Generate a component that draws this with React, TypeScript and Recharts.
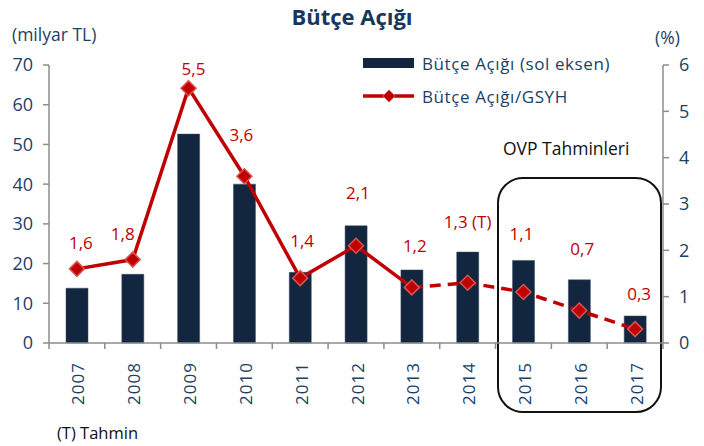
import React from "react";
import {
  ComposedChart,
  Bar,
  Line,
  XAxis,
  YAxis,
  LabelList,
} from "recharts";

const years = ["2007", "2008", "2009", "2010", "2011", "2012", "2013", "2014", "2015", "2016", "2017"];
const deficit = [13.8, 17.3, 52.6, 40.0, 17.8, 29.5, 18.4, 22.9, 20.8, 15.9, 6.8];
const deficitToGdp = [1.6, 1.8, 5.5, 3.6, 1.4, 2.1, 1.2, 1.3, 1.1, 0.7, 0.3];
const ratioLabels = ["1,6", "1,8", "5,5", "3,6", "1,4", "2,1", "1,2", "1,3 (T)", "1,1", "0,7", "0,3"];
const leftTicks = [0, 10, 20, 30, 40, 50, 60, 70];
const rightTicks = [0, 1, 2, 3, 4, 5, 6];
const lastActualIndex = 6; // 2013: solid line ends, dashed starts

// label nudges (px) as placed in the original
const LABEL_DX = [4, -10, 5, -3, 2, 2, 3, 0, -2, 3, 4];
const LABEL_DY = [26, 26, 20, 42, 38, 53, 42, 61, 59, 62, 36];

const W = 704;
const H = 446;
const PLOT_LEFT = 49;
const PLOT_RIGHT = 663;
const PLOT_TOP = 65;
const PLOT_BOTTOM = 343;
const BAND = (PLOT_RIGHT - PLOT_LEFT) / years.length;

const NAVY = "#13263F";
const RED = "#C00000";
const TEXT_BLUE = "#1B3F66";
const AXIS = "#8C8C8C";
const FONT = "'Open Sans', 'DejaVu Sans', sans-serif";

const data = years.map((y, i) => ({
  year: y,
  deficit: deficit[i],
  ratio: deficitToGdp[i],
  solid: i <= lastActualIndex ? deficitToGdp[i] : null,
  dashed: i >= lastActualIndex ? deficitToGdp[i] : null,
  label: ratioLabels[i],
}));

const Diamond = (props: any) => {
  const { cx, cy } = props;
  if (cx == null || cy == null) return null;
  const r = 7.5;
  return (
    <polygon
      points={`${cx},${cy - r} ${cx + r},${cy} ${cx},${cy + r} ${cx - r},${cy}`}
      fill={RED}
      stroke="#D9534F"
      strokeWidth={1.5}
    />
  );
};

const RatioLabel = (props: any) => {
  const { x, y, index, value } = props;
  return (
    <text
      x={x + LABEL_DX[index]}
      y={y - LABEL_DY[index]}
      textAnchor="middle"
      dominantBaseline="central"
      fill={RED}
      fontSize={17}
      fontFamily={FONT}
    >
      {value}
    </text>
  );
};

const YearTick = (props: any) => {
  const { x, y, payload, index } = props;
  return (
    <g>
      <line x1={x - BAND / 2} y1={y - 8} x2={x - BAND / 2} y2={y - 2} stroke={AXIS} strokeWidth={1.5} />
      {index === years.length - 1 && (
        <line x1={x + BAND / 2} y1={y - 8} x2={x + BAND / 2} y2={y - 2} stroke={AXIS} strokeWidth={1.5} />
      )}
      <text
        transform={`translate(${x + 1}, ${y + 11}) rotate(-90)`}
        textAnchor="end"
        dominantBaseline="central"
        fill={TEXT_BLUE}
        fontSize={17}
        fontFamily={FONT}
        letterSpacing={1}
      >
        {payload.value}
      </text>
    </g>
  );
};

const LegendBox = () => (
  <div
    style={{
      position: "absolute",
      left: 363,
      top: 52,
      fontFamily: FONT,
      fontSize: 17,
      letterSpacing: 0.6,
      color: TEXT_BLUE,
    }}
  >
    <div style={{ display: "flex", alignItems: "center", height: 22 }}>
      <svg width={52} height={12}>
        <rect x={0} y={1} width={51} height={10} fill={NAVY} />
      </svg>
      <span style={{ marginLeft: 7 }}>Bütçe Açığı (sol eksen)</span>
    </div>
    <div style={{ display: "flex", alignItems: "center", height: 22, marginTop: 11 }}>
      <svg width={52} height={16}>
        <line x1={0} y1={8} x2={51} y2={8} stroke={RED} strokeWidth={3.5} />
        <polygon points="26,2 32,8 26,14 20,8" fill={RED} stroke="#D9534F" strokeWidth={1} />
      </svg>
      <span style={{ marginLeft: 7 }}>Bütçe Açığı/GSYH</span>
    </div>
  </div>
);

export default function App() {
  return (
    <div style={{ position: "absolute", left: 0, top: 0, width: W, height: H, background: "#fff", fontFamily: FONT }}>
      <div
        style={{
          position: "absolute",
          left: 497,
          top: 177,
          width: 165,
          height: 236,
          border: "2px solid #111",
          borderRadius: 26,
          boxSizing: "border-box",
        }}
      />
      <ComposedChart
        width={W}
        height={H}
        data={data}
        margin={{ top: PLOT_TOP, right: 0, left: 0, bottom: H - PLOT_BOTTOM - 60 }}
        style={{ position: "absolute", left: 0, top: 0 }}
      >
        <XAxis
          dataKey="year"
          height={60}
          interval={0}
          tick={<YearTick />}
          tickLine={false}
          axisLine={{ stroke: AXIS, strokeWidth: 1.5 }}
        />
        <YAxis
          yAxisId="left"
          width={PLOT_LEFT}
          domain={[0, 70]}
          ticks={leftTicks}
          tick={{ fill: TEXT_BLUE, fontSize: 18, fontFamily: FONT, dx: -8 }}
          tickLine={{ stroke: AXIS, strokeWidth: 1.5 }}
          tickSize={6}
          axisLine={{ stroke: AXIS, strokeWidth: 1.5 }}
        />
        <YAxis
          yAxisId="right"
          orientation="right"
          width={W - PLOT_RIGHT}
          domain={[0, 6]}
          ticks={rightTicks}
          tick={{ fill: TEXT_BLUE, fontSize: 18, fontFamily: FONT, dx: 8 }}
          tickLine={{ stroke: AXIS, strokeWidth: 1.5 }}
          tickSize={6}
          axisLine={{ stroke: AXIS, strokeWidth: 1.5 }}
        />
        <Bar
          yAxisId="left"
          dataKey="deficit"
          fill={NAVY}
          stroke="#3A4A60"
          strokeWidth={0.5}
          barSize={22}
          isAnimationActive={false}
        />
        <Line
          yAxisId="right"
          dataKey="solid"
          stroke={RED}
          strokeWidth={3.5}
          dot={false}
          activeDot={false}
          connectNulls={false}
          isAnimationActive={false}
        />
        <Line
          yAxisId="right"
          dataKey="dashed"
          stroke={RED}
          strokeWidth={3.5}
          strokeDasharray="11 7"
          dot={false}
          activeDot={false}
          connectNulls={false}
          isAnimationActive={false}
        />
        <Line
          yAxisId="right"
          dataKey="ratio"
          stroke="none"
          dot={<Diamond />}
          activeDot={false}
          isAnimationActive={false}
        >
          <LabelList dataKey="label" content={<RatioLabel />} />
        </Line>
      </ComposedChart>
      <LegendBox />
      <div
        style={{
          position: "absolute",
          left: 0,
          top: 1,
          width: W,
          textAlign: "center",
          fontSize: 22,
          fontWeight: 700,
          color: "#17375E",
        }}
      >
        Bütçe Açığı
      </div>
      <div style={{ position: "absolute", left: 12, top: 22, fontSize: 17.5, color: TEXT_BLUE }}>(milyar TL)</div>
      <div style={{ position: "absolute", left: 655, top: 25, fontSize: 17.5, color: TEXT_BLUE }}>(%)</div>
      <div style={{ position: "absolute", left: 503, top: 136, fontSize: 17.5, color: "#111" }}>OVP Tahminleri</div>
      <div style={{ position: "absolute", left: 57, top: 421, fontSize: 16.5, color: "#111" }}>(T) Tahmin</div>
    </div>
  );
}
